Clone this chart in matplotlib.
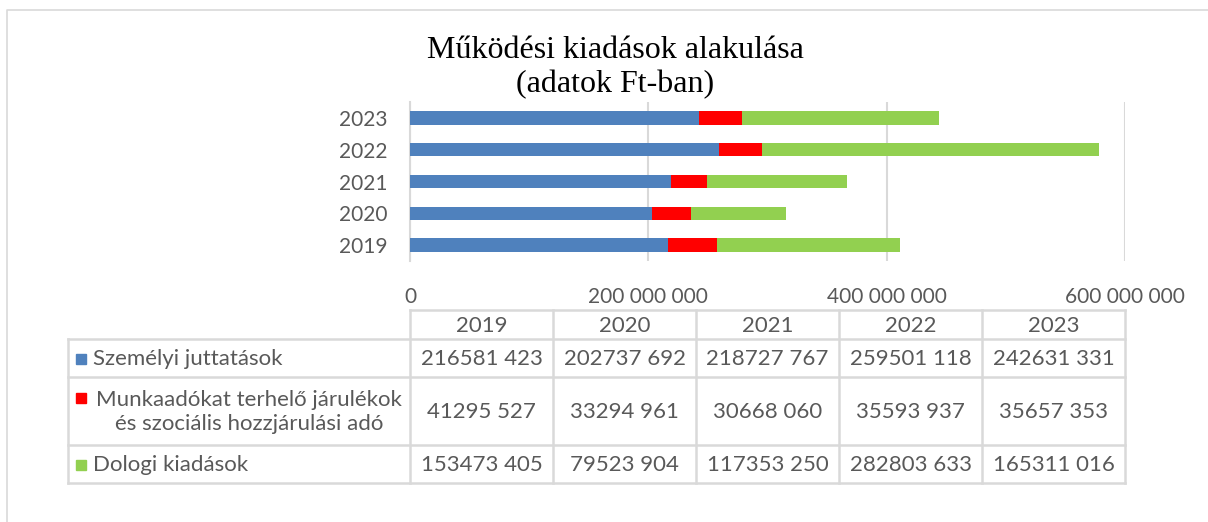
import matplotlib
matplotlib.use('Agg')
import matplotlib.pyplot as plt
from matplotlib.patches import Rectangle
import numpy as np

years = ['2019', '2020', '2021', '2022', '2023']
szemelyi = [216581423, 202737692, 218727767, 259501118, 242631331]
munkaado = [41295527, 33294961, 30668060, 35593937, 35657353]
dologi = [153473405, 79523904, 117353250, 282803633, 165311016]
series_names = ['Személyi juttatások',
                'Munkaadókat terhelő járulékok\nés szociális hozzjárulási adó',
                'Dologi kiadások']
colors = ['#4F81BD', '#FF0000', '#92D050']
x_ticks = [0, 200000000, 400000000, 600000000]

W, H = 1208, 522
TXT = '#595959'
GRID = '#D9D9D9'
SANS = 'Lato'
FS_TICK = 15
FS_TAB = 16


def fmt(v):
    s = f'{v:,}'.replace(',', ' ')
    # the source shows only the last group separated
    head, tail = s.rsplit(' ', 1)
    return head.replace(' ', '') + ' ' + tail


fig = plt.figure(figsize=(W / 100, H / 100), dpi=100)

# chart border
bg = fig.add_axes([0, 0, 1, 1])
bg.set_xlim(0, W)
bg.set_ylim(H, 0)
bg.axis('off')
bg.plot([7, 7, W], [H, 10, 10], color=GRID, lw=1.2)

# title
bg.text(615, 50, 'Működési kiadások alakulása', ha='center', va='center',
        fontsize=23, family='Liberation Serif')
bg.text(615, 85, '(adatok Ft-ban)', ha='center', va='center',
        fontsize=23, family='Liberation Serif')

# bars
ax = fig.add_axes([410 / W, 1 - 261 / H, 715 / W, 159 / H])
y = np.arange(len(years))
left = np.zeros(len(years))
for vals, c in zip([szemelyi, munkaado, dologi], colors):
    ax.barh(y, vals, left=left, height=0.42, color=c, zorder=3)
    left += np.array(vals)
ax.set_xlim(0, 600000000)
ax.set_ylim(-0.5, len(years) - 0.5)
ax.set_yticks(y)
ax.set_yticklabels(years, family=SANS, fontsize=FS_TICK, color=TXT)
ax.set_xticks(x_ticks)
ax.set_xticklabels([f'{t:,}'.replace(',', ' ') for t in x_ticks],
                   family=SANS, fontsize=FS_TICK, color=TXT)
ax.tick_params(axis='y', length=0, pad=16)
ax.tick_params(axis='x', length=0, pad=19)
ax.grid(axis='x', color=GRID, lw=1.5, zorder=0)
for s in ['top', 'right', 'bottom']:
    ax.spines[s].set_visible(False)
ax.spines['left'].set_color(GRID)
ax.spines['left'].set_linewidth(1.5)

# data table
col_x = [410 + i * 143 for i in range(len(years) + 1)]
row_y = [339, 377, 445, 483]
tl = 68
lc = GRID
lw = 1.8
bg.plot([col_x[0], col_x[-1]], [310, 310], color=lc, lw=lw)
for cx in col_x:
    bg.plot([cx, cx], [310, row_y[-1]], color=lc, lw=lw)
bg.plot([tl, tl], [row_y[0], row_y[-1]], color=lc, lw=lw)
for ry in row_y:
    bg.plot([tl, col_x[-1]], [ry, ry], color=lc, lw=lw)
for i, yr in enumerate(years):
    bg.text((col_x[i] + col_x[i + 1]) / 2, (310 + row_y[0]) / 2 + 1, yr,
            ha='center', va='center', family=SANS, fontsize=FS_TAB, color=TXT)
for r, (vals, c, name) in enumerate(zip([szemelyi, munkaado, dologi], colors, series_names)):
    yc = (row_y[r] + row_y[r + 1]) / 2 + 1
    for i, v in enumerate(vals):
        bg.text((col_x[i] + col_x[i + 1]) / 2, yc, fmt(v), ha='center', va='center',
                family=SANS, fontsize=FS_TAB, color=TXT)
    if '\n' in name:
        sq_y = yc - 14
        bg.add_patch(Rectangle((76, sq_y - 5), 10, 10, color=c))
        bg.text(249, yc, name, ha='center', va='center', family=SANS,
                fontsize=FS_TAB, color=TXT, linespacing=1.25, multialignment='center')
    else:
        bg.add_patch(Rectangle((76, yc - 5), 10, 10, color=c))
        bg.text(93, yc, name, ha='left', va='center', family=SANS,
                fontsize=FS_TAB, color=TXT)

fig.savefig('out.png', dpi=100)
